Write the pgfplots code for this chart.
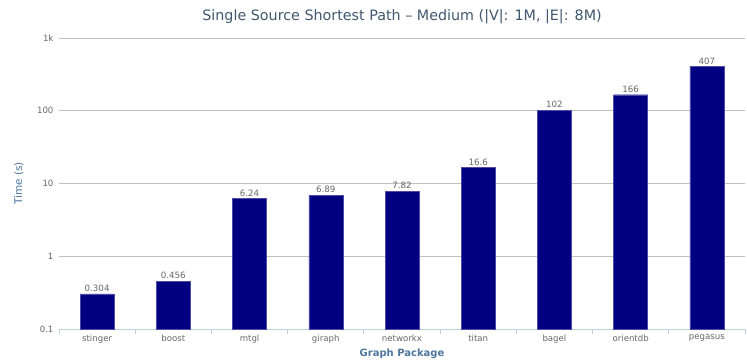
\documentclass[border=0pt]{standalone}
\usepackage{fontspec}
\setmainfont{DejaVu Sans}
\usepackage{pgfplots}
\pgfplotsset{compat=1.18}
\definecolor{bar}{HTML}{000080}
\definecolor{titlec}{HTML}{3E576F}
\definecolor{axtitle}{HTML}{4D759E}
\definecolor{tick}{HTML}{666666}
\definecolor{gridc}{HTML}{C0C0C0}
\definecolor{xline}{HTML}{C0D0E0}
\begin{document}
\begin{tikzpicture}
\begin{axis}[
  name=ax,
  scale only axis,
  width=686pt, height=291pt,
  ymode=log, ymin=0.1, ymax=1000,
  log origin=infty,
  xmin=-0.5, xmax=8.5,
  ybar, bar width=34pt,
  axis lines*=left,
  x axis line style={draw=xline, line width=0.8pt},
  y axis line style={draw=none},
  ytick={0.1,1,10,100,1000},
  yticklabels={0.1,1,10,100,1k},
  xtick={0,...,8},
  xticklabels={stinger,boost,mtgl,giraph,networkx,titan,bagel,orientdb,pegasus},
  minor xtick={-0.5,0.5,...,8.5},
  major tick length=0pt,
  minor tick length=5pt,
  tick align=outside,
  minor tick style={draw=xline, line width=0.8pt},
  yminorticks=false,
  ymajorgrids,
  grid style={draw=gridc, line width=0.6pt},
  tick label style={font=\fontsize{8.6}{10}\selectfont, text=tick},
  yticklabel style={xshift=-2pt},
  xticklabel style={yshift=-2pt},
  title={Single Source Shortest Path – Medium (|V|: 1M, |E|: 8M)},
  title style={font=\fontsize{14.3}{17}\selectfont, text=titlec, at={(axis description cs:0.5,1.052)}, anchor=center},
  xlabel={Graph Package},
  xlabel style={font=\bfseries\fontsize{10}{12}\selectfont, text=axtitle, at={(axis description cs:0.5,-0.085)}, anchor=center},
  ylabel={Time (s)},
  ylabel style={font=\fontsize{10.5}{12}\selectfont, text=axtitle, at={(axis description cs:-0.0585,0.5)}, anchor=center},
  point meta=explicit symbolic,
  nodes near coords,
  nodes near coords style={font=\fontsize{8.7}{10}\selectfont, text=tick, inner sep=2pt},
]
\addplot[fill=bar, draw=bar!70!white, line width=0.4pt] coordinates {
  (0,0.304) [0.304]
  (1,0.456) [0.456]
  (2,6.24) [6.24]
  (3,6.89) [6.89]
  (4,7.82) [7.82]
  (5,16.6) [16.6]
  (6,102) [102]
  (7,166) [166]
  (8,407) [407]
};
\end{axis}
\pgfresetboundingbox
\path[use as bounding box] ([xshift=-59pt,yshift=-33pt]ax.south west) rectangle ([xshift=2pt,yshift=38pt]ax.north east);
\end{tikzpicture}
\end{document}
